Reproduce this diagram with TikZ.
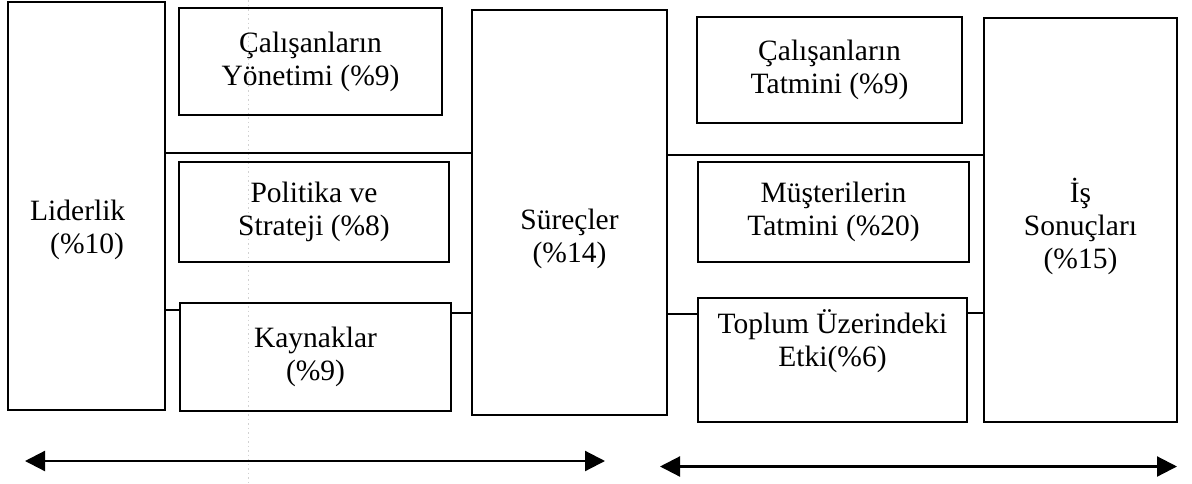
\documentclass[tikz,border=0pt]{standalone}
\usepackage{fontspec}
\setmainfont{Liberation Serif}
\usetikzlibrary{arrows.meta}
\begin{document}
\begin{tikzpicture}[x=1pt,y=-1pt,
  every node/.style={font=\fontsize{29.5}{33}\selectfont},
  box/.style={draw, line width=2pt, inner sep=0pt, align=center},
  txt/.style={inner sep=0pt, align=center},
  link/.style={line width=2pt},
  span/.style={line width=2.2pt, {Triangle[length=20pt,width=20pt]}-{Triangle[length=20pt,width=20pt]}},
  guide/.style={gray!35, line width=0.6pt, dash pattern=on 1.5pt off 3pt}]
  \useasboundingbox (0,0) rectangle (1192,483);
  % faint guide line running through the left column
  \coordinate (g1) at (248,0);
  \coordinate (g2) at (248,483);
  \draw[guide] (g1) -- (g2);

  % enablers
  \node[box, minimum width=157pt, minimum height=408pt] (lid) at (86.5,206) {};
  \node[txt, anchor=base west, align=left] (lidT) at (30,253) {Liderlik\\\hspace*{20pt}(\%10)};
  \node[box, minimum width=263pt, minimum height=107pt] (cy) at (310.5,61.5) {Çalışanların\\Yönetimi (\%9)};
  \node[box, minimum width=270pt, minimum height=100pt] (pol) at (314,212) {Politika ve\\Strateji (\%8)};
  \node[box, minimum width=271pt, minimum height=108pt] (kay) at (315.5,357) {Kaynaklar\\(\%9)};
  \node[box, minimum width=195pt, minimum height=405pt] (sur) at (569.5,212.5) {};
  \node[txt, anchor=base] (surT) at (569.5,262) {Süreçler\\(\%14)};

  % results
  \node[box, minimum width=265pt, minimum height=106pt] (ct) at (829.5,70) {Çalışanların\\Tatmini (\%9)};
  \node[box, minimum width=271pt, minimum height=100pt] (mt) at (833.5,212) {Müşterilerin\\Tatmini (\%20)};
  \node[box, minimum width=269pt, minimum height=124pt] (top) at (832.5,360) {};
  \node[txt, anchor=base] (topT) at (832.5,366) {Toplum Üzerindeki\\Etki(\%6)};
  \node[box, minimum width=193pt, minimum height=404pt] (is) at (1080.5,220) {};
  \node[txt, anchor=base] (isT) at (1080.5,268) {İş\\Sonuçları\\(\%15)};

  % connecting lines
  \draw[link] (lid.east |- 0,153) -- (sur.west |- 0,153);
  \draw[link] (lid.east |- 0,310) -- (kay.west |- 0,310);
  \draw[link] (kay.east |- 0,313) -- (sur.west |- 0,313);
  \draw[link] (sur.east |- 0,155) -- (is.west |- 0,155);
  \draw[link] (sur.east |- 0,314) -- (top.west |- 0,314);
  \draw[link] (top.east |- 0,313) -- (is.west |- 0,313);

  % span arrows
  \coordinate (a1) at (25,461);
  \coordinate (a2) at (605,461);
  \coordinate (b1) at (660,466.5);
  \coordinate (b2) at (1177,466.5);
  \draw[span] (a1) -- (a2);
  \draw[span] (b1) -- (b2);
\end{tikzpicture}
\end{document}
